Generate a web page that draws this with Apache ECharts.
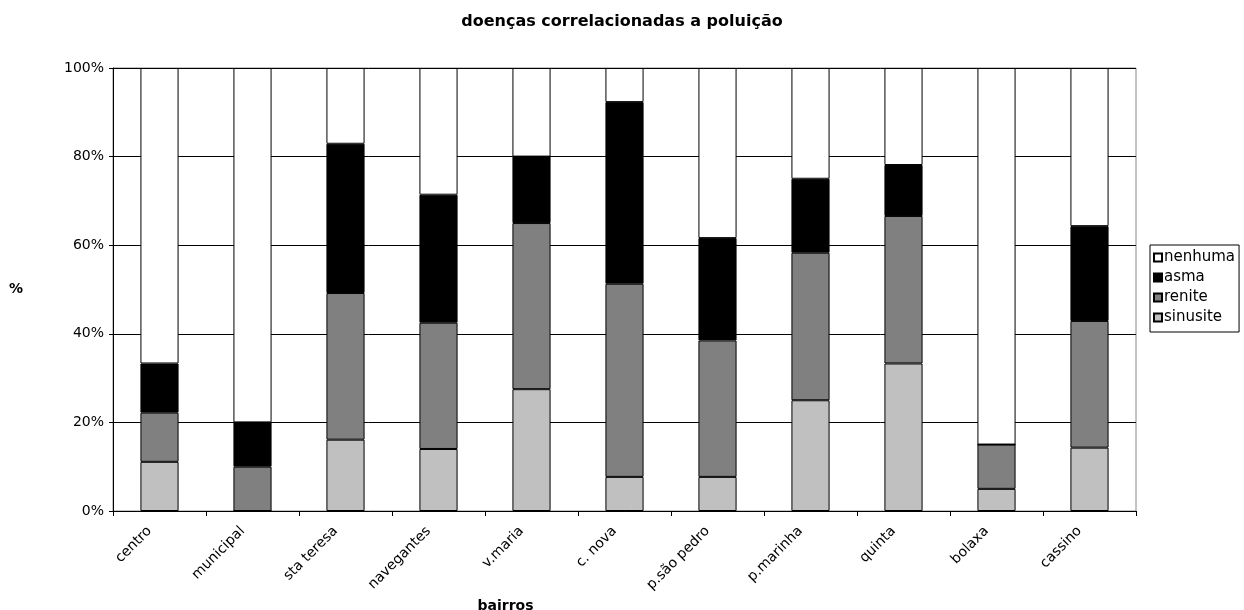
<!DOCTYPE html>
<html>
<head>
<meta charset="utf-8">
<script src="https://cdn.jsdelivr.net/npm/echarts@6/dist/echarts.min.js"></script>
<style>html,body{margin:0;padding:0;background:#fff;overflow:hidden}#c{width:1244px;height:610px}</style>
</head>
<body>
<div id="c"></div>
<script>
var categories = ['centro','municipal','sta teresa','navegantes','v.maria','c. nova','p.são pedro','p.marinha','quinta','bolaxa','cassino'];
var sinusite = [11.1, 0, 16.1, 14.0, 27.5, 7.7, 7.7, 25.0, 33.3, 5.0, 14.3];
var renite   = [11.1, 10.0, 33.1, 28.5, 37.5, 43.6, 30.8, 33.3, 33.3, 10.0, 28.6];
var asma     = [11.1, 10.0, 33.7, 28.9, 15.0, 41.0, 23.1, 16.7, 11.5, 0, 21.4];
var nenhuma  = [66.7, 80.0, 17.1, 28.6, 20.0, 7.7, 38.4, 25.0, 21.9, 85.0, 35.7];
var yTicks = ['0%','20%','40%','60%','80%','100%'];

var FONT = 'DejaVu Sans, Liberation Sans, Arial, sans-serif';
function mk(name, data, color) {
  return {
    name: name, type: 'bar', stack: 'total', data: data, barWidth: '41%',
    itemStyle: { color: color, borderColor: '#000', borderWidth: 1 }
  };
}
var chart = echarts.init(document.getElementById('c'), null, { renderer: 'canvas', width: 1244, height: 610 });
chart.setOption({
  animation: false,
  backgroundColor: '#fff',
  title: {
    text: 'doenças correlacionadas a poluição', left: 'center', top: 9,
    textStyle: { fontFamily: FONT, fontSize: 16, fontWeight: 'bold', color: '#000' }
  },
  legend: {
    orient: 'vertical', left: 1150, top: 245,
    data: ['nenhuma','asma','renite','sinusite'],
    itemWidth: 8, itemHeight: 8, itemGap: 5, icon: 'rect',
    borderColor: '#000', borderWidth: 1, padding: [5, 4, 7, 3],
    textStyle: { fontFamily: FONT, fontSize: 15, color: '#000', padding: [0,0,0,-3] }
  },
  grid: { left: 113, width: 1023, top: 68, height: 443, show: true, borderColor: '#888', borderWidth: 1,
          containLabel: false, outerBoundsMode: 'none' },
  xAxis: {
    type: 'category', data: categories,
    name: 'bairros', nameLocation: 'middle', nameGap: 80,
    nameTextStyle: { fontFamily: FONT, fontSize: 14, fontWeight: 'bold', color: '#000', padding: [0, 238, 0, 0] },
    axisLine: { lineStyle: { color: '#000', width: 1 } },
    axisTick: { show: true, length: 5, lineStyle: { color: '#000' } },
    axisLabel: { rotate: 45, margin: 8, padding: [0, 14, 0, 0], fontFamily: FONT, fontSize: 14, color: '#000' }
  },
  yAxis: {
    type: 'value', min: 0, max: 100, interval: 20,
    name: '%', nameLocation: 'middle', nameGap: 90, nameRotate: 0,
    nameTextStyle: { fontFamily: FONT, fontSize: 14, fontWeight: 'bold', color: '#000' },
    axisLine: { show: true, lineStyle: { color: '#000', width: 1 } },
    axisTick: { show: true, length: 4, lineStyle: { color: '#000' } },
    axisLabel: { margin: 9, fontFamily: FONT, fontSize: 14, color: '#000',
      formatter: function (v) { return yTicks[Math.round(v / 20)]; } },
    splitLine: { show: true, lineStyle: { color: '#000', width: 1 } }
  },
  series: [
    mk('sinusite', sinusite, '#C0C0C0'),
    mk('renite', renite, '#808080'),
    mk('asma', asma, '#000000'),
    mk('nenhuma', nenhuma, '#FFFFFF')
  ]
});
</script>
</body>
</html>
